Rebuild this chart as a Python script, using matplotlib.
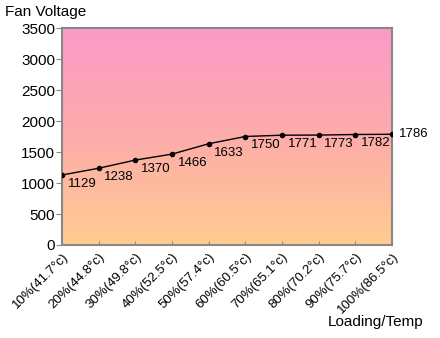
import matplotlib.pyplot as plt
import numpy as np
from matplotlib.colors import LinearSegmentedColormap

plt.rcParams['font.family'] = ['Liberation Sans', 'DejaVu Sans']

loads = ["10%", "20%", "30%", "40%", "50%", "60%", "70%", "80%", "90%", "100%"]
temps = ["41.7", "44.8", "49.8", "52.5", "57.4", "60.5", "65.1", "70.2", "75.7", "86.5"]
voltage = [1129, 1238, 1370, 1466, 1633, 1750, 1771, 1773, 1782, 1786]

labels = [f"{l}({t}\u00b0c)" for l, t in zip(loads, temps)]
x = np.arange(len(voltage))

fig = plt.figure(figsize=(4.4, 3.38), dpi=100)
ax = fig.add_axes([62 / 440, 1 - 245 / 338, 330 / 440, 217 / 338])

# vertical gradient, orange at bottom to pink at top
cmap = LinearSegmentedColormap.from_list("bg", ["#ffcc90", "#fdacaa", "#fa9ac8"])
grad = np.linspace(0, 1, 256).reshape(-1, 1)
ax.imshow(grad, cmap=cmap, aspect="auto", origin="lower",
          extent=[0, 9, 0, 3500], zorder=0)

ax.plot(x, voltage, color="black", lw=1, marker="o", ms=3, zorder=3)
for i, v in enumerate(voltage):
    if i == len(voltage) - 1:
        ax.annotate(str(v), (i, v), xytext=(5, 0), textcoords="offset points",
                    ha="left", va="center", fontsize=9.5, annotation_clip=False)
    else:
        ax.annotate(str(v), (i, v), xytext=(4, -2), textcoords="offset points",
                    ha="left", va="top", fontsize=9.5)

ax.set_xlim(0, 9)
ax.set_ylim(0, 3500)
ax.set_yticks(range(0, 3501, 500))
ax.set_xticks(x)
ax.set_xticklabels(labels, rotation=45, ha="right", va="top",
                   rotation_mode="anchor", fontsize=9.5)
ax.tick_params(axis="y", labelsize=11, length=4, color="#888888", pad=1)
ax.tick_params(axis="x", direction="in", length=3, color="#888888", pad=4)
for s in ax.spines.values():
    s.set_color("#888888")
    s.set_linewidth(1.5)

fig.text(5 / 440, 1 - 12 / 338, "Fan Voltage", fontsize=11, va="center", ha="left")
fig.text(423 / 440, 1 - 322 / 338, "Loading/Temp", fontsize=11, va="center", ha="right")

fig.savefig("out.png", dpi=100)
